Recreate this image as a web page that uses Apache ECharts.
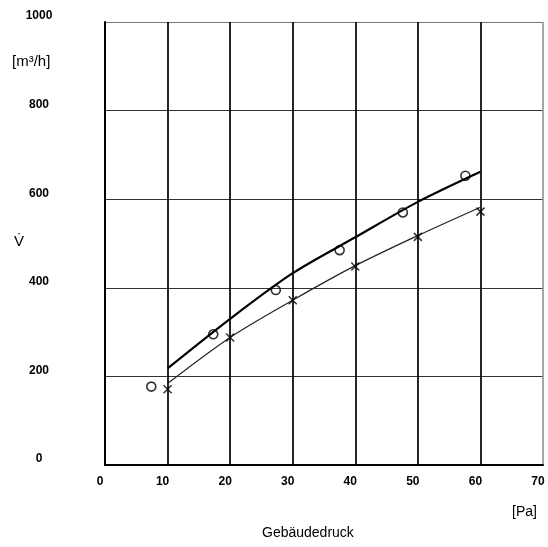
<!DOCTYPE html>
<html>
<head>
<meta charset="utf-8">
<script src="https://cdn.jsdelivr.net/npm/echarts@6/dist/echarts.min.js"></script>
<style>html,body{margin:0;padding:0;background:#fff}#c{width:548px;height:547px}</style>
</head>
<body>
<div id="c"></div>
<script>
// Measured points (circles)
const circleX = [7.4, 17.3, 27.3, 37.5, 47.6, 57.6];
const circleY = [177, 295, 395, 485, 570, 653];
// Measured points (crosses)
const crossX = [10, 20, 30, 40, 50, 60];
const crossY = [171, 288, 372, 448, 515, 572];
// Fitted curves
const curveX = [10, 20, 30, 40, 50, 60];
const thickCurve = [218, 330, 433, 514, 594, 662];
const thinCurve = [184, 288, 372, 450, 518, 582];
const xTicks = [0, 10, 20, 30, 40, 50, 60, 70];
const yTicks = [0, 200, 400, 600, 800, 1000];

const zip = (a, b) => a.map((v, i) => [v, b[i]]);
const font = '"Liberation Sans", Arial, sans-serif';

const chart = echarts.init(document.getElementById('c'), null, {renderer: 'canvas'});
chart.setOption({
  animation: false,
  backgroundColor: '#fff',
  grid: {left: 105, right: 5, top: 22, bottom: 82, containLabel: false},
  xAxis: {
    type: 'value', min: xTicks[0], max: xTicks[xTicks.length - 1], interval: 10,
    axisLine: {show: true, lineStyle: {color: '#000', width: 2}},
    axisTick: {show: false},
    axisLabel: {color: '#000', fontFamily: font, fontSize: 12, fontWeight: 'bold', margin: 11, padding: [0, 10, 0, 0],
      formatter: v => String(v)},
    splitLine: {show: true, lineStyle: {color: ['#000', '#000', '#000', '#000', '#000', '#000', '#000', '#999'], width: 1.7}}
  },
  yAxis: {
    type: 'value', min: yTicks[0], max: yTicks[yTicks.length - 1], interval: 200,
    axisLine: {show: true, lineStyle: {color: '#000', width: 2}},
    axisTick: {show: false},
    axisLabel: {color: '#000', fontFamily: font, fontSize: 12, fontWeight: 'bold', margin: 66, align: 'center',
      verticalAlign: 'bottom', formatter: v => String(v)},
    splitLine: {show: true, lineStyle: {color: ['#000', '#333', '#333', '#333', '#333', '#777'], width: 1}}
  },
  graphic: [
    {type: 'text', left: 12, top: 54, style: {text: '[m³/h]', font: '15px ' + font, fill: '#000'}},
    {type: 'text', left: 14, top: 234, style: {text: 'V̇', font: '15px ' + font, fill: '#000'}},
    {type: 'text', left: 512, top: 505, style: {text: '[Pa]', font: '14px ' + font, fill: '#000'}},
    {type: 'text', left: 262, top: 526, style: {text: 'Gebäudedruck', font: '14px ' + font, fill: '#000'}}
  ],
  series: [
    {
      type: 'line', data: zip(curveX, thickCurve), smooth: 0.3, showSymbol: false,
      lineStyle: {color: '#000', width: 2.2}, z: 3
    },
    {
      type: 'line', data: zip(curveX, thinCurve), smooth: 0.3, showSymbol: false,
      lineStyle: {color: '#222', width: 1.2}, z: 3
    },
    {
      type: 'scatter', data: zip(circleX, circleY), symbol: 'circle', symbolSize: 9,
      itemStyle: {color: 'rgba(255,255,255,0)', borderColor: '#000', borderWidth: 1.6}, z: 4
    },
    {
      type: 'scatter', data: zip(crossX, crossY), symbol: 'path://M0,0L10,10M10,0L0,10', symbolSize: 8,
      itemStyle: {color: 'none', borderColor: '#000', borderWidth: 1.5}, z: 4
    }
  ]
});
</script>
</body>
</html>
